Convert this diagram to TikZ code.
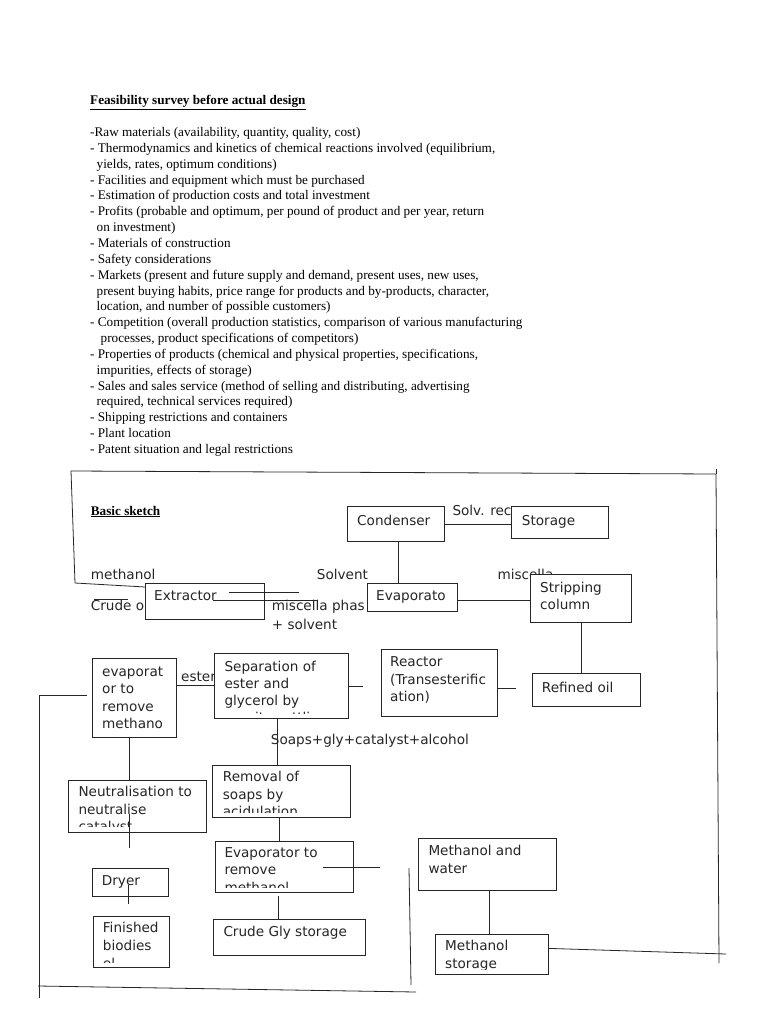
\documentclass[tikz,border=0pt]{standalone}
\usepackage{fontspec}
\setmainfont{Liberation Serif}
\newfontfamily\dvs{DejaVu Sans}
\tikzset{
  ln/.style={line width=0.8pt, draw=black!85},
  box/.style={draw=black!85, line width=0.8pt, fill=white, inner sep=0pt, anchor=north west},
  lbl/.style={font=\dvs\fontsize{13.6}{17.2}\selectfont, anchor=base west, inner sep=0pt, text=black!85},
  srf/.style={font=\fontsize{13.2}{15}\selectfont, anchor=base west, inner sep=0pt},
  srfb/.style={font=\bfseries\fontsize{13.2}{15}\selectfont, anchor=base west, inner sep=0pt},
}
\begin{document}
\begin{tikzpicture}[x=1pt,y=-1pt]
\useasboundingbox[fill=white] (0,0) rectangle (768,1024);

% ---------- feasibility list ----------
\node[srfb] (title) at (90,105) {\underline{Feasibility survey before actual design}};
\foreach \xx/\tt [count=\i] in {
 90/{-Raw materials (availability, quantity, quality, cost)},
 90/{- Thermodynamics and kinetics of chemical reactions involved (equilibrium,},
 96.5/{yields, rates, optimum conditions)},
 90/{- Facilities and equipment which must be purchased},
 90/{- Estimation of production costs and total investment},
 90/{- Profits (probable and optimum, per pound of product and per year, return},
 96.5/{on investment)},
 90/{- Materials of construction},
 90/{- Safety considerations},
 90/{- Markets (present and future supply and demand, present uses, new uses,},
 96.5/{present buying habits, price range for products and by-products, character,},
 96.5/{location, and number of possible customers)},
 90/{- Competition (overall production statistics, comparison of various manufacturing},
 100.5/{processes, product specifications of competitors)},
 90/{- Properties of products (chemical and physical properties, specifications,},
 96.5/{impurities, effects of storage)},
 90/{- Sales and sales service (method of selling and distributing, advertising},
 96.5/{required, technical services required)},
 90/{- Shipping restrictions and containers},
 90/{- Plant location},
 90/{- Patent situation and legal restrictions}}
 \node[srf] (item\i) at (\xx,{136.5+(\i-1)*15.85}) {\tt};

% ---------- frame ----------
\coordinate (fTL) at (71,471);
\coordinate (fTR) at (716,474);
\coordinate (fBR) at (719,963);
\coordinate (fL) at (75,583);
\draw[ln] (fL) -- (fTL) -- (fTR) -- (fBR);
\draw[ln] (716,469) -- (fTR);
\coordinate (lA) at (87,695);
\coordinate (lB) at (39,695);
\coordinate (lC) at (39,998);
\draw[ln] (lA) -- (lB) -- (lC);
\coordinate (bA) at (38,986);
\coordinate (bB) at (416,992);
\draw[ln] (bA) -- (bB);
\coordinate (vA) at (409,868);
\coordinate (vB) at (411,985);
\draw[ln] (vA) -- (vB);

% ---------- free labels ----------
\node[srfb] (basic) at (90.7,515) {\underline{Basic sketch}};
\node[lbl] (tmeth) at (90.7,579.3) {methanol};
\node[lbl] (tcrude) at (90.7,610.7) {Crude o};
\node[lbl] (tsolv) at (316.7,579.3) {Solvent};
\node[lbl] (tmisph) at (271.7,610.7) {miscella phas};
\node[lbl] (tplus) at (271.7,629) {+ solvent};
\node[lbl] (tsrec) at (452.3,515) {Solv. rec};
\node[lbl] (tmisc) at (497.3,579) {miscella};
\node[lbl] (tester) at (181,681.7) {ester};
\node[lbl] (tsoap) at (270.7,744.3) {Soaps+gly+catalyst+alcohol};

% ---------- boxes ----------
\node[box, minimum width=119pt, minimum height=36pt] (ext) at (145,583) {};
\node[box, minimum width=97pt, minimum height=35pt] (cond) at (347,506) {};
\node[box, minimum width=97pt, minimum height=32pt] (stor) at (511,506) {};
\node[box, minimum width=90pt, minimum height=28pt] (evap) at (367,583) {};
\node[box, minimum width=101pt, minimum height=48pt] (strip) at (530,574) {};
\node[box, minimum width=108pt, minimum height=33pt] (refin) at (532,673) {};
\node[box, minimum width=116pt, minimum height=67pt] (react) at (381,649) {};
\node[box, minimum width=134pt, minimum height=65pt] (sep) at (214,653) {};
\node[box, minimum width=84pt, minimum height=79pt] (evm) at (92,658) {};
\node[box, minimum width=138pt, minimum height=52pt] (neut) at (68,780) {};
\node[box, minimum width=138pt, minimum height=52pt] (remv) at (212,765) {};
\node[box, minimum width=138pt, minimum height=51pt] (evm2) at (215,841) {};
\node[box, minimum width=76pt, minimum height=28pt] (dry) at (92,868) {};
\node[box, minimum width=76pt, minimum height=51pt] (fin) at (93,916) {};
\node[box, minimum width=152pt, minimum height=36pt] (gly) at (213,919) {};
\node[box, minimum width=138pt, minimum height=52pt] (mw) at (418,838) {};
\node[box, minimum width=113pt, minimum height=40pt] (mst) at (435,934) {};

% ---------- box texts ----------
\node[lbl] (l-ext) at (154,600.7) {Extractor};
\node[lbl] (l-cond) at (357,525) {Condenser};
\node[lbl] (l-stor) at (521.7,525) {Storage};
\node[lbl] (l-evap) at (376,600.7) {Evaporato};
\node[lbl] (l-strip1) at (540,592.3) {Stripping};
\node[lbl] (l-strip2) at (540,609.5) {column};
\node[lbl] (l-refin) at (541.7,692.3) {Refined oil};
\node[lbl] (l-react1) at (390,666.7) {Reactor};
\node[lbl] (l-react2) at (390,684.0) {(Transesterific};
\node[lbl] (l-react3) at (390,701.3) {ation)};
\begin{scope}
  \clip (sep.north west) rectangle ([yshift=5pt]sep.south east);
  \foreach \tt [count=\i] in {Separation of,ester and,glycerol by,gravity settling}
    \node[lbl] (l-sep\i) at (224.3,{671+(\i-1)*17.3}) {\tt};
\end{scope}
\foreach \tt [count=\i] in {evaporat,or to,remove,methano}
  \node[lbl] (l-evm\i) at (102,{676.7+(\i-1)*17.2}) {\tt};
\begin{scope}
  \clip (neut.north west) rectangle ([yshift=6pt]neut.south east);
  \foreach \tt [count=\i] in {Neutralisation to,neutralise,catalyst}
    \node[lbl] (l-neut\i) at (78.3,{796.7+(\i-1)*17.4}) {\tt};
\end{scope}
\begin{scope}
  \clip (remv.north west) rectangle ([yshift=5pt]remv.south east);
  \foreach \tt [count=\i] in {Removal of,soaps by,acidulation}
    \node[lbl] (l-remv\i) at (222.7,{781.7+(\i-1)*17.4}) {\tt};
\end{scope}
\begin{scope}
  \clip (evm2.north west) rectangle ([yshift=5pt]evm2.south east);
  \foreach \tt [count=\i] in {Evaporator to,remove,methanol}
    \node[lbl] (l-evmb\i) at (224.3,{857.3+(\i-1)*17.6}) {\tt};
\end{scope}
\node[lbl] (l-dry) at (101.7,885.7) {Dryer};
\begin{scope}
  \clip (fin.north west) rectangle ([yshift=5pt]fin.south east);
  \foreach \tt [count=\i] in {Finished,biodies,el}
    \node[lbl] (l-fin\i) at (102.7,{932.3+(\i-1)*18.2}) {\tt};
\end{scope}
\node[lbl] (l-gly) at (223.3,936.7) {Crude Gly storage};
\node[lbl] (l-mw1) at (428.3,855) {Methanol and};
\node[lbl] (l-mw2) at (428.3,873.3) {water};
\begin{scope}
  \clip (mst.north west) rectangle ([yshift=5pt]mst.south east);
  \node[lbl] (l-mst1) at (445,950.7) {Methanol};
  \node[lbl] (l-mst2) at (445,968.3) {storage};
\end{scope}

% ---------- connectors ----------
\draw[ln] (fL) -- (ext.west |- 0,587);
\coordinate (crA) at (94.3,599.3);
\coordinate (crB) at (128.3,599.3);
\draw[ln] (crA) -- (crB);
\coordinate (exA) at (229.3,592.3);
\coordinate (exB) at (299.3,592.3);
\coordinate (exC) at (213.3,600);
\coordinate (exD) at (317.3,600);
\draw[ln] (exA) -- (exB);
\draw[ln] (exC) -- (exD);
\draw[ln] ([yshift=-0.5pt]cond.east) -- ([yshift=-0.5pt]cond.east -| stor.west);
\draw[ln] ([xshift=2.5pt]cond.south) -- ([xshift=2.5pt]cond.south |- evap.north);
\draw[ln] ([yshift=-3pt]evap.east) -- ([yshift=-3pt]evap.east -| strip.west);
\draw[ln] (strip.south) -- (strip.south |- refin.north);
\coordinate (rfree) at (516,688);
\draw[ln] (react.east |- rfree) -- (rfree);
\coordinate (sfree) at (363,686);
\draw[ln] (sep.east |- sfree) -- (sfree);
\draw[ln] ([yshift=12.5pt]evm.east) -- ([yshift=12.5pt]evm.east -| sep.west);
\draw[ln] ([xshift=-5pt]evm.south) -- ([xshift=-5pt]evm.south |- neut.north);
\coordinate (nA) at (129,814);
\coordinate (nB) at (129,848);
\draw[ln] (nA) -- (nB);
\coordinate (dA) at (128,885);
\coordinate (dB) at (128,904);
\draw[ln] (dA) -- (dB);
\draw[ln] ([xshift=-4pt]sep.south) -- ([xshift=-4pt]sep.south |- remv.north);
\draw[ln] ([xshift=-2pt]remv.south) -- ([xshift=-2pt]remv.south |- evm2.north);
\coordinate (eA) at (323,867);
\coordinate (eB) at (380,867);
\draw[ln] (eA) -- (eB);
\draw[ln] ([xshift=-6pt,yshift=-3pt]evm2.south) -- ([xshift=-6pt]evm2.south |- gly.north);
\draw[ln] ([xshift=2pt]mw.south) -- ([xshift=2pt]mw.south |- mst.north);
\coordinate (mfree) at (726,954);
\draw[ln] ([yshift=6pt]mst.east) -- (mfree);
\end{tikzpicture}
\end{document}
